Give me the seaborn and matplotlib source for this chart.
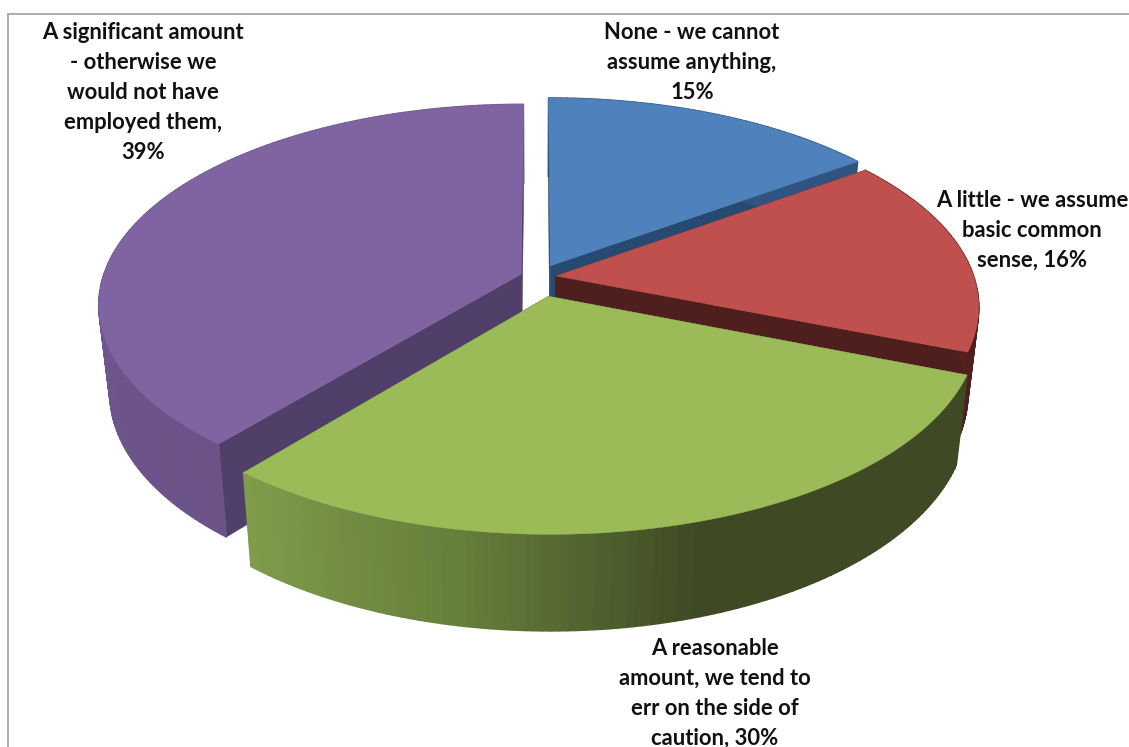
import numpy as np
import matplotlib
matplotlib.use("Agg")
import matplotlib.pyplot as plt
from matplotlib.collections import PolyCollection
import seaborn as sns

# Survey responses, clockwise from twelve o'clock
labels = [
    "None - we cannot\nassume anything,\n15%",
    "A little - we assume\nbasic common\nsense, 16%",
    "A reasonable\namount, we tend to\nerr on the side of\ncaution, 30%",
    "A significant amount\n- otherwise we\nwould not have\nemployed them,\n39%",
]
shares = [15, 16, 30, 39]

# Slice colours
top_colors = ["#4f81bd", "#c0504d", "#9bbb59", "#8064a2"]
wall_colors = ["#264a70", "#4f1f1d", "#3f4a24", "#503f68"]
rim_ramps = [
    ["#2f5480", "#2f5480"],
    ["#5b2422", "#4f1f1d"],
    ["#3f4a24", "#66803c", "#7f9c4a"],
    ["#6b5388", "#6f5790", "#6f5790"],
]
rim_dark_fraction = [0.0, 0.0, 0.47, 0.0]
explode = [0.065, 0.043, 0.10, 0.043]

# Projection of the tilted disc
CX, CY = 538.0, 277.0
RX, RY = 418.0, 196.0
PERSPECTIVE = 0.15
THICKNESS = 86.0
BASE_SHRINK = 0.975


def project(x, y, base=False):
    s = 1.0 / (1.0 + PERSPECTIVE * y)
    shrink = BASE_SHRINK if base else 1.0
    px = CX + RX * x * s * shrink
    py = CY - RY * y * s * shrink + (THICKNESS * s if base else 0.0)
    return px, py


def wall(ax_x, ax_y, theta, color, ax):
    """Flat radial face between the slice apex and its rim."""
    x = np.array([ax_x, ax_x + np.sin(theta)])
    y = np.array([ax_y, ax_y + np.cos(theta)])
    tx, ty = project(x, y)
    bx, by = project(x, y, base=True)
    ax.fill([tx[0], tx[1], bx[1], bx[0]], [ty[0], ty[1], by[1], by[0]],
            color=color, lw=0.4, zorder=ax.zcount)
    ax.zcount += 1


sns.set_theme(style="white")
fig = plt.figure(figsize=(11.29, 7.47), dpi=100, facecolor="white")
ax = fig.add_axes([8 / 1129, 0, 1 - 8 / 1129, 1 - 14 / 747])
ax.set_xlim(8, 1129)
ax.set_ylim(747, 14)
ax.set_xticks([])
ax.set_yticks([])
for side in ("right", "bottom"):
    ax.spines[side].set_visible(False)
for side in ("left", "top"):
    ax.spines[side].set_color("#a8a8a8")
    ax.spines[side].set_linewidth(1.3)
ax.zcount = 2

edges = np.cumsum([0] + shares) / sum(shares) * 2 * np.pi

# Painter's order: the back slices first, the green front slice last
for i in (0, 1, 3, 2):
    t0, t1 = edges[i], edges[i + 1]
    mid = 0.5 * (t0 + t1)
    ox, oy = explode[i] * np.sin(mid), explode[i] * np.cos(mid)

    wall(ox, oy, t0, wall_colors[i], ax)
    wall(ox, oy, t1, wall_colors[i], ax)

    # Outer rim, shaded in narrow strips
    th = np.linspace(t0, t1, int(np.degrees(t1 - t0)) + 2)
    rx, ry = ox + np.sin(th), oy + np.cos(th)
    tx, ty = project(rx, ry)
    bx, by = project(rx, ry, base=True)
    n_strips = len(th) - 1
    n_flat = int(n_strips * rim_dark_fraction[i])
    ramp = [rim_ramps[i][0]] * n_flat + list(
        sns.blend_palette(rim_ramps[i], n_strips - n_flat))
    quads = [
        [(tx[j], ty[j]), (tx[j + 1], ty[j + 1]), (bx[j + 1], by[j + 1]), (bx[j], by[j])]
        for j in range(n_strips)
    ]
    ax.add_collection(PolyCollection(quads, facecolors=ramp, edgecolors=ramp,
                                     linewidths=1.2, zorder=ax.zcount))
    ax.zcount += 1

    # Top face
    fx, fy = project(np.r_[ox, rx], np.r_[oy, ry])
    ax.fill(fx, fy, color=top_colors[i], lw=0.3, zorder=ax.zcount)
    ax.zcount += 1

# Data labels
label_xy = [(692, 22), (1032, 190), (715, 638), (143, 22)]
for text, (lx, ly) in zip(labels, label_xy):
    ax.text(lx, ly, text, ha="center", va="top", family="Lato", weight="bold",
            fontsize=15.8, color="#111111", linespacing=1.53, clip_on=False, zorder=50)

fig.savefig("out.png", dpi=100, facecolor="white")
